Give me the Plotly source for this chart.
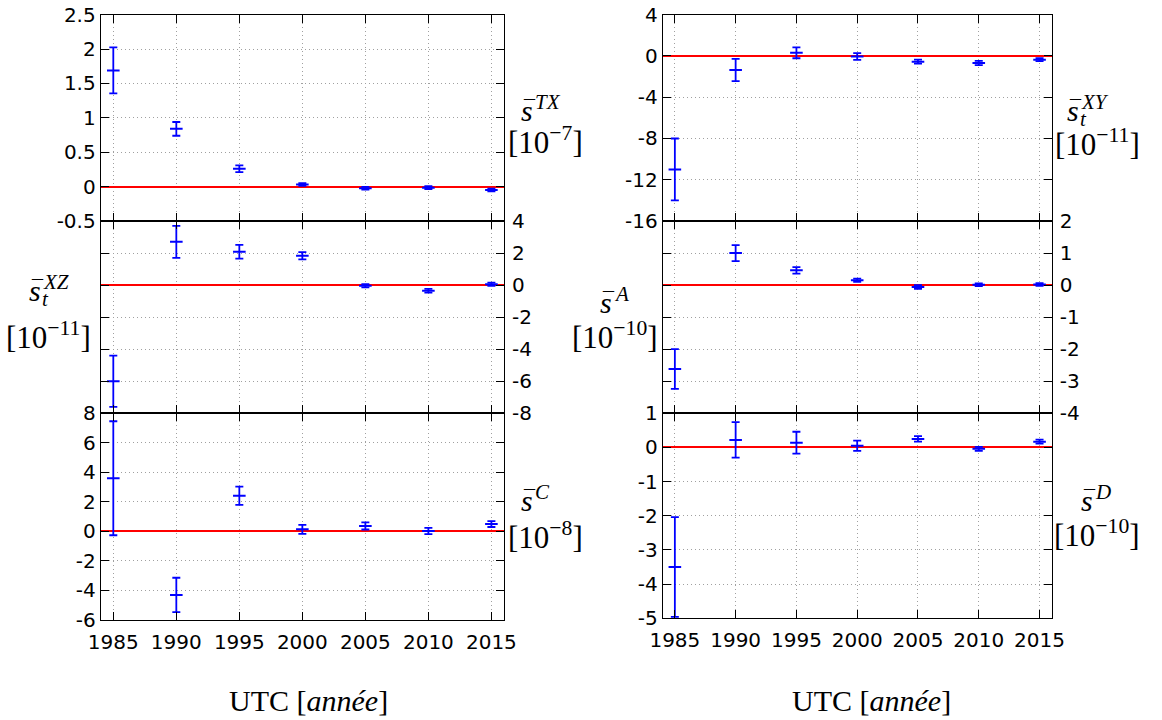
import plotly.graph_objects as go

# ---------------- data ----------------
years = [1985, 1990, 1995, 2000, 2005, 2010, 2015]

s_TX = [1.69, 0.84, 0.26, 0.03, -0.025, -0.015, -0.05]
s_TX_err = [0.335, 0.10, 0.05, 0.02, 0.02, 0.02, 0.02]

s_XZ = [-6.0, 2.7, 2.08, 1.83, -0.04, -0.35, 0.06]
s_XZ_err = [1.6, 1.0, 0.43, 0.23, 0.10, 0.12, 0.10]

s_C = [3.6, -4.3, 2.42, 0.14, 0.37, 0.03, 0.5]
s_C_err = [3.86, 1.16, 0.62, 0.30, 0.24, 0.21, 0.20]

s_XY = [-11.0, -1.36, 0.31, -0.05, -0.55, -0.68, -0.36]
s_XY_err = [3.0, 1.07, 0.53, 0.32, 0.20, 0.20, 0.15]

s_A = [-2.62, 1.0, 0.46, 0.15, -0.06, 0.01, 0.02]
s_A_err = [0.62, 0.25, 0.10, 0.05, 0.06, 0.04, 0.04]

s_D = [-3.5, 0.22, 0.14, 0.05, 0.25, -0.04, 0.17]
s_D_err = [1.46, 0.52, 0.32, 0.15, 0.08, 0.06, 0.06]

x_range = [1984, 2016]
x_ticks = [1985, 1990, 1995, 2000, 2005, 2010, 2015]
x_ticktext = ["1985", "1990", "1995", "2000", "2005", "2010", "2015"]

y_TX_ticks = [-0.5, 0, 0.5, 1, 1.5, 2, 2.5]
y_TX_text = ["-0.5", "0", "0.5", "1", "1.5", "2", "2.5"]
y_XZ_ticks = [-8, -6, -4, -2, 0, 2, 4]
y_XZ_text = ["-8", "-6", "-4", "-2", "0", "2", "4"]
y_C_ticks = [-6, -4, -2, 0, 2, 4, 6, 8]
y_C_text = ["-6", "-4", "-2", "0", "2", "4", "6", "8"]
y_XY_ticks = [-16, -12, -8, -4, 0, 4]
y_XY_text = ["-16", "-12", "-8", "-4", "0", "4"]
y_A_ticks = [-4, -3, -2, -1, 0, 1, 2]
y_A_text = ["-4", "-3", "-2", "-1", "0", "1", "2"]
y_D_ticks = [-5, -4, -3, -2, -1, 0, 1]
y_D_text = ["-5", "-4", "-3", "-2", "-1", "0", "1"]

x_title = "UTC [<i>année</i>]"

# ---------------- layout helpers ----------------
W, H = 1162, 720


def PX(px):
    return px / W


def PY(py):
    return 1 - py / H


BLUE = "#0000ff"
TICKFONT = dict(family="DejaVu Sans", size=20, color="black")
SERIF = "Liberation Serif"
GRID = dict(showgrid=True, gridcolor="#a0a0a0", griddash="1px,3px", gridwidth=1)

colL = [PX(100.7), PX(504)]
colR = [PX(662.7), PX(1051.7)]
rows_L = [[PY(221), PY(14.7)], [PY(413.3), PY(221)], [PY(620), PY(413.3)]]
rows_R = [[PY(221), PY(14.7)], [PY(413.3), PY(221)], [PY(618.3), PY(413.3)]]

panels = [
    # (data, err, xdomain, ydomain, yrange, yticks, ytext, side, bottom)
    (s_TX, s_TX_err, colL, rows_L[0], [-0.5, 2.5], y_TX_ticks, y_TX_text, "left", False),
    (s_XZ, s_XZ_err, colL, rows_L[1], [-8, 4], y_XZ_ticks, y_XZ_text, "right", False),
    (s_C, s_C_err, colL, rows_L[2], [-6, 8], y_C_ticks, y_C_text, "left", True),
    (s_XY, s_XY_err, colR, rows_R[0], [-16, 4], y_XY_ticks, y_XY_text, "left", False),
    (s_A, s_A_err, colR, rows_R[1], [-4, 2], y_A_ticks, y_A_text, "right", False),
    (s_D, s_D_err, colR, rows_R[2], [-5, 1], y_D_ticks, y_D_text, "left", True),
]

fig = go.Figure()
layout = dict(
    template="none",
    width=W, height=H,
    margin=dict(l=0, r=0, t=0, b=0, autoexpand=False),
    paper_bgcolor="white", plot_bgcolor="white",
    showlegend=False,
)

for i, (vals, errs, xd, yd, yr, yt, ytt, side, bottom) in enumerate(panels, start=1):
    xa = "x" if i == 1 else f"x{i}"
    ya = "y" if i == 1 else f"y{i}"
    fig.add_trace(go.Scatter(
        x=years, y=vals, mode="markers",
        marker=dict(symbol="line-ew", size=9, color=BLUE, line=dict(width=2, color=BLUE)),
        error_y=dict(type="data", array=errs, visible=True, color=BLUE, thickness=1.8, width=4),
        xaxis=xa, yaxis=ya, hoverinfo="skip",
    ))
    layout["xaxis" if i == 1 else f"xaxis{i}"] = dict(
        domain=xd, range=x_range, anchor=ya, automargin=False,
        tickmode="array", tickvals=x_ticks, ticktext=x_ticktext,
        ticks="inside", ticklen=8, tickwidth=1, tickcolor="black",
        mirror="allticks", showline=True, linecolor="black", linewidth=1,
        zeroline=False, showticklabels=bottom, tickfont=TICKFONT,
        ticklabelstandoff=4, **GRID,
    )
    layout["yaxis" if i == 1 else f"yaxis{i}"] = dict(
        domain=yd, range=yr, anchor=xa, side=side, automargin=False,
        tickmode="array", tickvals=yt, ticktext=ytt,
        ticks="inside", ticklen=8, tickwidth=1, tickcolor="black",
        mirror="allticks", showline=True, linecolor="black", linewidth=1,
        zeroline=True, zerolinecolor="#ff0000", zerolinewidth=1.6,
        tickfont=TICKFONT, ticklabelstandoff=(0 if side == "left" else 3),
        **GRID,
    )

annotations = []


def txt(text, px, py, size, xanchor="center", italic=False):
    t = f"<i>{text}</i>" if italic else text
    annotations.append(dict(
        text=t, x=PX(px), y=PY(py), xref="paper", yref="paper",
        xanchor=xanchor, yanchor="middle", showarrow=False,
        font=dict(family=SERIF, size=size, color="black"),
    ))


def label(s_cx, s_cy, sup, sub, br_cx, br_cy, exp):
    txt("s", s_cx, s_cy, 30, italic=True)
    txt("\u00af", s_cx + 2, s_cy - 3, 22)
    txt(sup, s_cx + 6, s_cy - 8, 21, xanchor="left", italic=True)
    if sub:
        txt(sub, s_cx + 5, s_cy + 9, 21, xanchor="left", italic=True)
    txt(f"[10<sup>\u2212{exp}</sup>]", br_cx, br_cy, 31)


label(527, 110, "TX", None, 545, 141, 7)
label(35, 290, "XZ", "t", 48, 335, 11)
label(527, 500, "C", None, 545, 535, 8)
label(1073, 110, "XY", "t", 1097, 143, 11)
label(606, 302, "A", None, 615, 335, 10)
label(1087, 500, "D", None, 1097, 533, 10)

txt(x_title, 308, 700, 30)
txt(x_title, 871, 700, 30)

layout["annotations"] = annotations
fig.update_layout(**layout)
fig.write_html(
    "out.html",
    config={"displayModeBar": False},
    post_script="document.body.style.margin='0';document.body.style.overflow='hidden';",
)
